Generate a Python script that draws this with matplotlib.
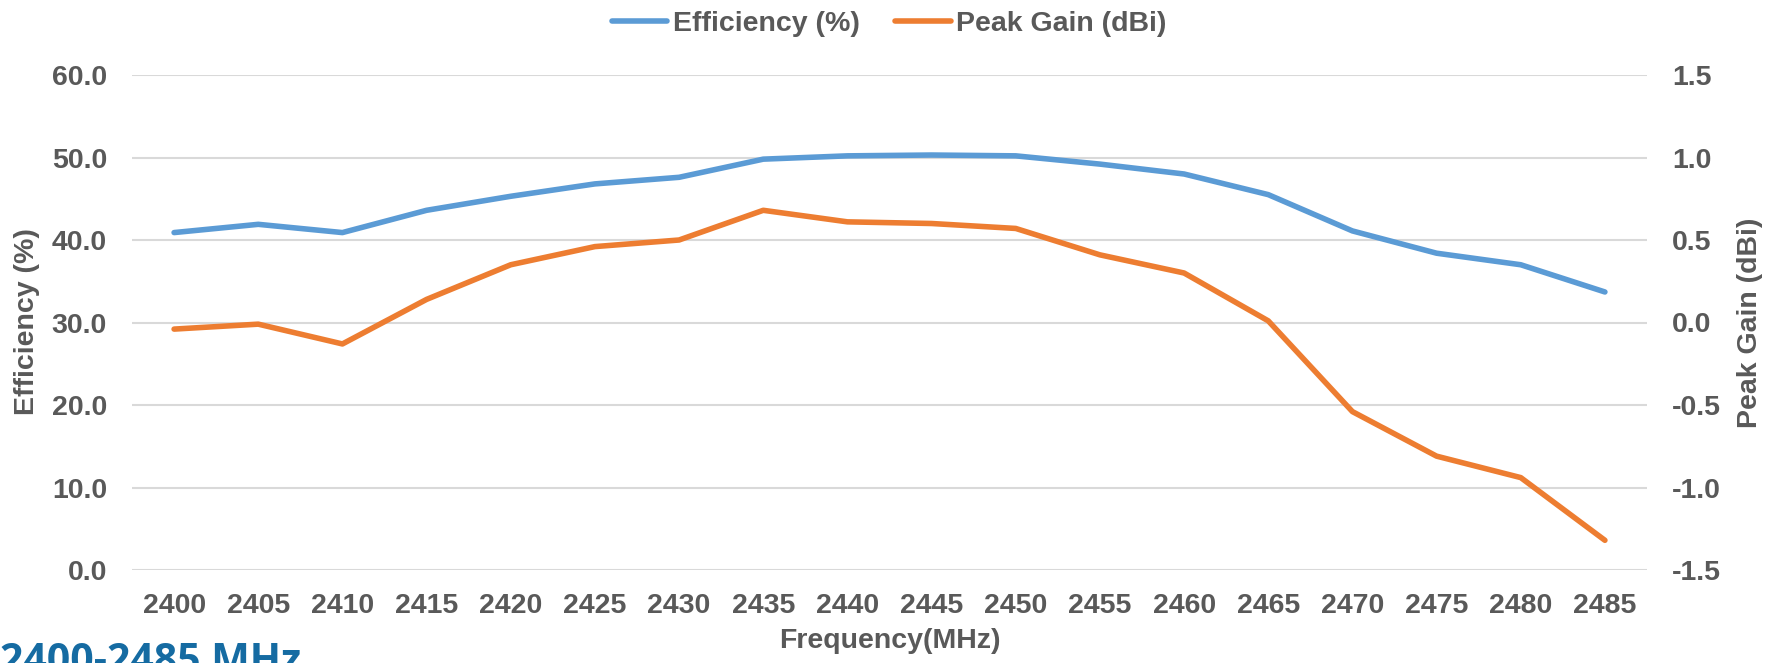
import matplotlib
matplotlib.use('Agg')
import matplotlib.pyplot as plt
import numpy as np

# data
freqs = [2400, 2405, 2410, 2415, 2420, 2425, 2430, 2435, 2440,
         2445, 2450, 2455, 2460, 2465, 2470, 2475, 2480, 2485]
efficiency = [40.9, 41.9, 40.9, 43.6, 45.3, 46.8, 47.6, 49.8, 50.2,
              50.3, 50.2, 49.2, 48.0, 45.5, 41.1, 38.4, 37.0, 33.7]
peak_gain = [-0.04, -0.01, -0.13, 0.14, 0.35, 0.46, 0.50, 0.68, 0.61,
             0.60, 0.57, 0.41, 0.30, 0.01, -0.54, -0.81, -0.94, -1.32]
eff_ticks = [0, 10, 20, 30, 40, 50, 60]
gain_ticks = [-1.5, -1.0, -0.5, 0.0, 0.5, 1.0, 1.5]

blue = '#5B9BD5'
orange = '#ED7D31'
grey = '#595959'
fs = 20.5

plt.rcParams['font.family'] = ['Liberation Sans', 'DejaVu Sans']
plt.rcParams['font.weight'] = 'bold'
plt.rcParams['axes.unicode_minus'] = False

W, H = 1781, 663
fig = plt.figure(figsize=(W / 100, H / 100), dpi=100)
left, right, top, bottom = 132, 1647, 75, 570
ax = fig.add_axes([left / W, 1 - bottom / H, (right - left) / W, (bottom - top) / H])
ax2 = ax.twinx()

x = np.arange(len(freqs))
l1, = ax.plot(x, efficiency, color=blue, lw=4.0, solid_capstyle='round',
              solid_joinstyle='round', label='Efficiency (%)')
l2, = ax2.plot(x, peak_gain, color=orange, lw=4.0, solid_capstyle='round',
               solid_joinstyle='round', label='Peak Gain (dBi)')

ax.set_xlim(-0.5, len(freqs) - 0.5)
ax.set_ylim(0, 60)
ax2.set_ylim(-1.5, 1.5)
ax.set_yticks(eff_ticks)
ax.set_yticklabels(['%.1f' % v for v in eff_ticks])
ax2.set_yticks(gain_ticks)
ax2.set_yticklabels(['%.1f' % v for v in gain_ticks])
ax.set_xticks(x)
ax.set_xticklabels([str(f) for f in freqs])

ax.grid(axis='y', color='#D9D9D9', lw=1.5)
ax.set_axisbelow(True)
for a in (ax, ax2):
    for s in a.spines.values():
        s.set_visible(False)
ax.tick_params(axis='y', length=0, pad=18, labelsize=fs, labelcolor=grey)
ax.tick_params(axis='x', length=0, pad=16.5, labelsize=fs, labelcolor=grey)
ax2.tick_params(axis='y', length=0, pad=18, labelsize=fs, labelcolor=grey)

# axis titles
fig.text(27 / W, 1 - 322 / H, 'Efficiency (%)', rotation=90, ha='center', va='center',
         fontsize=fs, color=grey, fontweight='bold')
fig.text(1750 / W, 1 - 323 / H, 'Peak Gain (dBi)', rotation=90, ha='center', va='center',
         fontsize=fs, color=grey, fontweight='bold')
fig.text(890 / W, 1 - 648 / H, 'Frequency(MHz)', ha='center', va='baseline',
         fontsize=fs, color=grey, fontweight='bold')

fig.legend(handles=[l1, l2], loc='center', bbox_to_anchor=(889 / W, 1 - 24 / H),
           ncol=2, frameon=False, fontsize=fs, handlelength=1.95, handletextpad=0.18,
           columnspacing=1.25, labelcolor=grey, borderpad=0)

fig.text(0.0, 1 - 642 / H, '2400-2485 MHz', ha='left', va='top',
         fontsize=29.5, color='#156BA2', fontweight='bold', family='Open Sans')

fig.savefig('out.png', dpi=100)
